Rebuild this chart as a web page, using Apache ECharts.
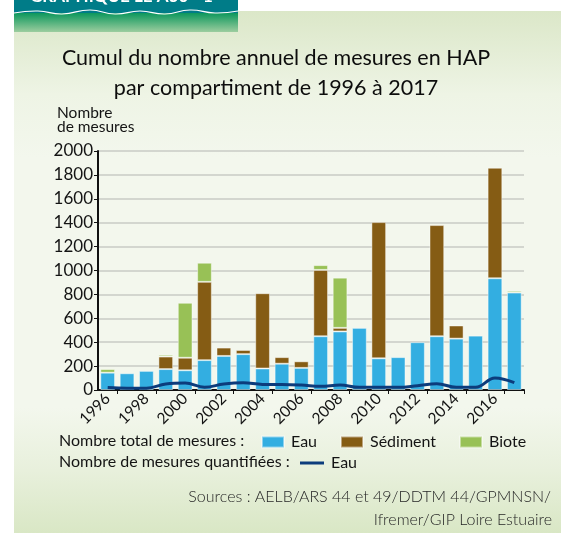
<!DOCTYPE html>
<html>
<head>
<meta charset="utf-8">
<script src="https://cdn.jsdelivr.net/npm/echarts@6/dist/echarts.min.js"></script>
<style>
  html, body { margin: 0; padding: 0; background: #fff; }
  #chart { width: 561px; height: 533px; }
</style>
</head>
<body>
<div id="chart"></div>
<script>
// annees
const years = ['1996','1997','1998','1999','2000','2001','2002','2003','2004','2005','2006',
               '2007','2008','2009','2010','2011','2012','2013','2014','2015','2016','2017'];
// nombre total de mesures par compartiment
const eau      = [145, 140, 160, 175, 165, 250, 285, 300, 180, 220, 185, 450, 490, 520, 265, 275, 400, 450, 430, 455, 935, 815];
const sediment = ['-', '-', '-', 105, 105, 655, 70, 35, 630, 55, 55, 555, 30, '-', 1140, '-', '-', 930, 110, '-', 925, '-'];
const biote    = [30, '-', '-', 15, 460, 160, '-', '-', '-', '-', '-', 40, 420, '-', '-', '-', '-', '-', '-', '-', '-', 15];
// nombre de mesures quantifiees (eau)
const eauQuant = [20, 15, 15, 50, 58, 24, 50, 60, 47, 47, 42, 31, 42, 22, 22, 22, 36, 53, 22, 22, 100, 61];
const yTicks = [0, 200, 400, 600, 800, 1000, 1200, 1400, 1600, 1800, 2000];

const FONT = 'Lato';
const TXT = '#141414';

let ec = echarts.init(document.getElementById('chart'));

let barStyle = (c) => ({ color: c, borderColor: 'rgba(255,255,255,0.45)', borderWidth: 1 });
let legendText = { fontFamily: FONT, fontSize: 16, color: TXT, padding: [0, 0, 0, 2] };
let oneLegend = (name, left, top, extra) => Object.assign({
  data: [name], left: left, top: top, padding: 0,
  itemWidth: 22, itemHeight: 11, icon: 'rect', textStyle: legendText
}, extra || {});

let option = {
  animation: false,
  textStyle: { fontFamily: FONT },
  title: {
    text: 'Cumul du nombre annuel de mesures en HAP\npar compartiment de 1996 à 2017',
    left: 271,
    top: 38,
    textAlign: 'center',
    textStyle: { fontFamily: FONT, fontSize: 21.5, fontWeight: 'normal', color: '#0d0d0d', lineHeight: 30 }
  },
  graphic: [
    // fond du cadre
    { type: 'rect', z: -10, shape: { x: 14, y: 11, width: 547, height: 522 },
      style: { fill: new echarts.graphic.LinearGradient(0, 0, 0, 1, [
        { offset: 0, color: '#dbe7c8' }, { offset: 0.16, color: '#eef4e5' },
        { offset: 0.28, color: '#f3f7ed' }, { offset: 0.76, color: '#f3f7ed' },
        { offset: 0.88, color: '#e8f0dc' }, { offset: 1, color: '#d9e7c5' }]) } },
    // bandeau
    { type: 'rect', z: -9, shape: { x: 14, y: 0, width: 224, height: 14 }, style: { fill: '#007c88' } },
    { type: 'rect', z: -9, shape: { x: 14, y: 13, width: 224, height: 19 },
      style: { fill: new echarts.graphic.LinearGradient(0, 0, 0, 1, [
        { offset: 0, color: '#0c975c' }, { offset: 1, color: '#9ccd9f' }]) } },
    { type: 'polyline', z: -8, shape: { smooth: 0.5, points: [[14, 13], [38, 11], [62, 14], [90, 10], [115, 14], [140, 11], [165, 14], [190, 10], [215, 13], [238, 11]] },
      style: { stroke: '#ffffff', lineWidth: 1.2, fill: null } },
    { type: 'text', z: -7, left: 30, top: -12,
      style: { text: 'GRAPHIQUE LE A30 - 1', fill: '#ffffff', font: 'bold 17px ' + FONT } },
    // nom de l'axe
    { type: 'text', left: 57, top: 105,
      style: { text: 'Nombre\nde mesures', fill: TXT, font: '15.5px ' + FONT, lineHeight: 14 } },
    // legendes
    { type: 'text', left: 59, top: 433,
      style: { text: 'Nombre total de mesures :', fill: TXT, font: '16px ' + FONT } },
    { type: 'text', left: 59, top: 454,
      style: { text: 'Nombre de mesures quantifiées :', fill: TXT, font: '16px ' + FONT } },
    // sources
    { type: 'text', right: 10, top: 489,
      style: { text: 'Sources : AELB/ARS 44 et 49/DDTM 44/GPMNSN/', fill: '#262626', font: '300 16px ' + FONT } },
    { type: 'text', right: 9, top: 512,
      style: { text: 'Ifremer/GIP Loire Estuaire', fill: '#262626', font: '300 16px ' + FONT } }
  ],
  legend: [
    oneLegend('Eau', 261, 434),
    oneLegend('Sédiment', 340, 434),
    oneLegend('Biote', 459, 434),
    oneLegend('Eau ', 300, 455, { itemWidth: 24, itemHeight: 3, formatter: (n) => n.trim() })
  ],
  grid: { left: 98, right: 37, top: 151, bottom: 143, containLabel: false },
  xAxis: {
    type: 'category',
    data: years,
    axisLine: { lineStyle: { color: '#111', width: 2 } },
    axisTick: { show: true, length: 4, lineStyle: { color: '#111', width: 1 },
                interval: (i) => i % 2 === 1 },
    axisLabel: { interval: 1, rotate: 45, margin: 6, fontSize: 15.5, color: TXT, fontFamily: FONT }
  },
  yAxis: {
    type: 'value',
    min: 0, max: 2000, interval: 200,
    axisLine: { show: true, lineStyle: { color: '#111', width: 2 } },
    axisTick: { show: true, length: 4, lineStyle: { color: '#111' } },
    axisLabel: { fontSize: 17, color: TXT, margin: 5, fontFamily: FONT,
                 formatter: (v) => yTicks.includes(v) ? String(v) : '' },
    splitLine: { lineStyle: { color: '#d3d6cf', width: 2 } }
  },
  series: [
    { name: 'Eau', type: 'bar', stack: 'total', barWidth: '76%', data: eau, itemStyle: barStyle('#33aee1') },
    { name: 'Sédiment', type: 'bar', stack: 'total', data: sediment, itemStyle: barStyle('#855c14') },
    { name: 'Biote', type: 'bar', stack: 'total', data: biote, itemStyle: barStyle('#98c156') },
    { name: 'Eau ', type: 'line', smooth: 0.4, data: eauQuant, showSymbol: false, symbol: 'none',
      lineStyle: { color: '#0c3c7c', width: 3 }, itemStyle: { color: '#0c3c7c' }, z: 5 }
  ]
};

ec.setOption(option);
</script>
</body>
</html>
